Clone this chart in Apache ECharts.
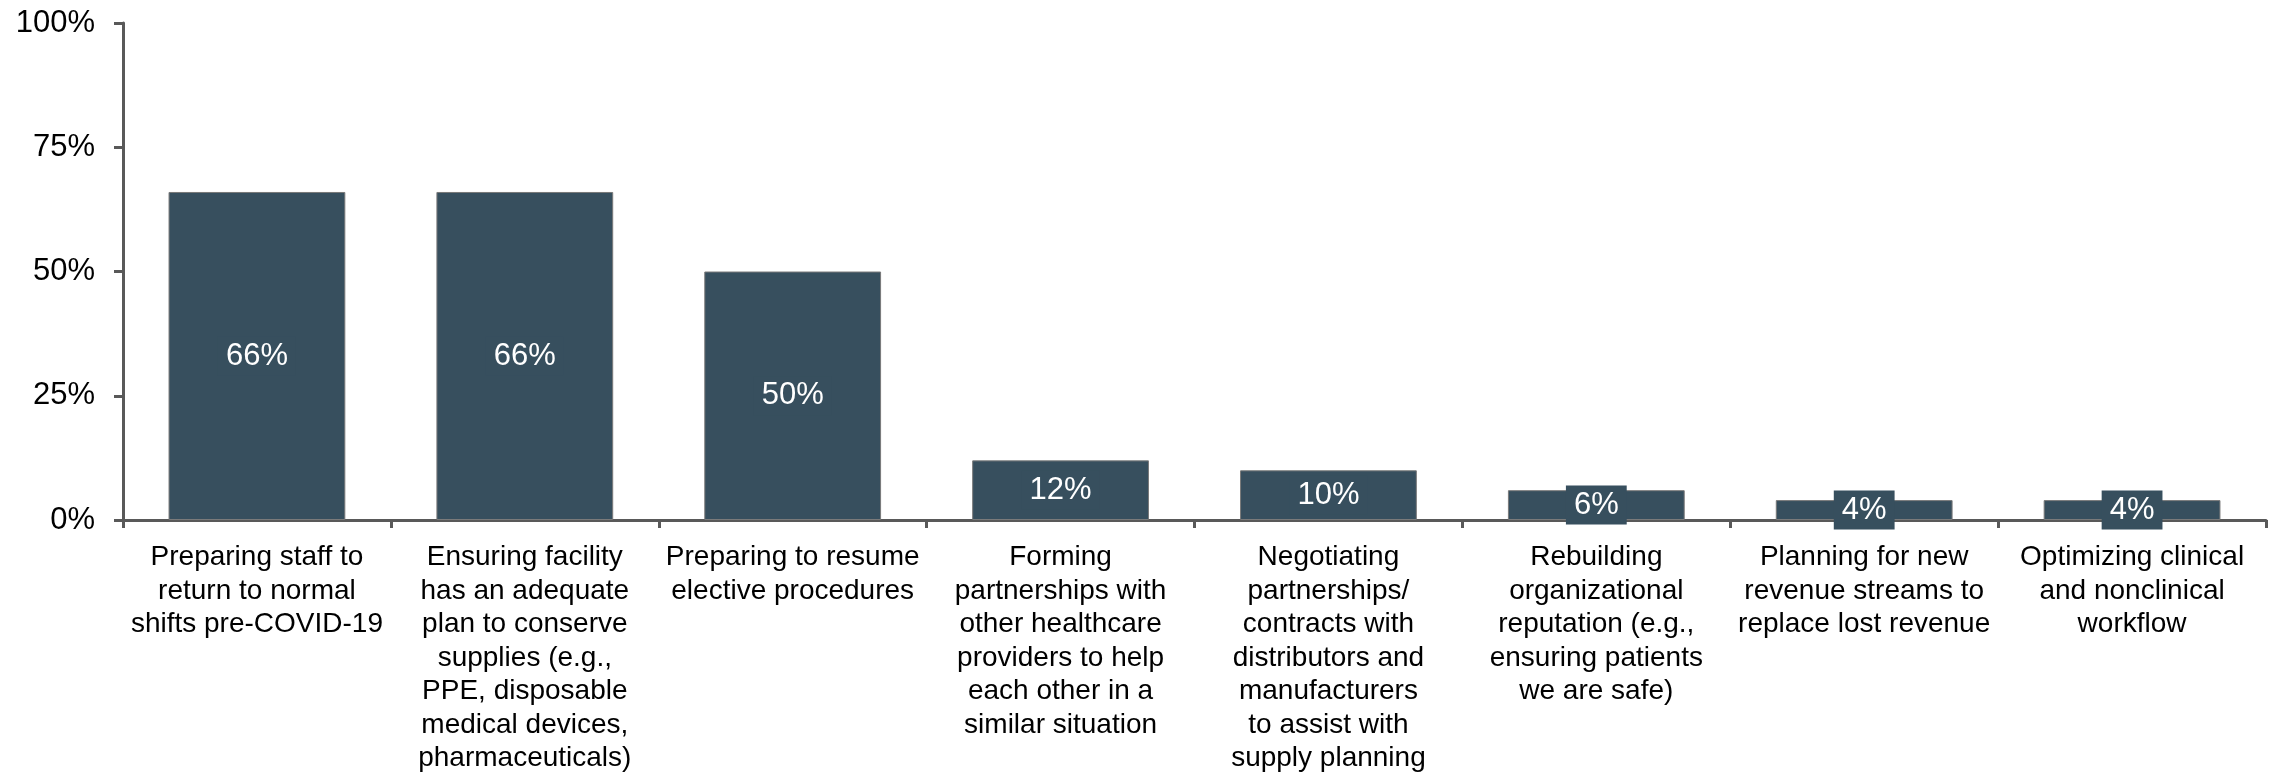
<!DOCTYPE html>
<html>
<head>
<meta charset="utf-8">
<script src="https://cdn.jsdelivr.net/npm/echarts@6/dist/echarts.min.js"></script>
<style>
html,body{margin:0;padding:0;background:#fff;}
#chart{width:2281px;height:772px;}
</style>
</head>
<body>
<div id="chart"></div>
<script>
var categories = [
  "Preparing staff to\nreturn to normal\nshifts pre-COVID-19",
  "Ensuring facility\nhas an adequate\nplan to conserve\nsupplies (e.g.,\nPPE, disposable\nmedical devices,\npharmaceuticals)",
  "Preparing to resume\nelective procedures",
  "Forming\npartnerships with\nother healthcare\nproviders to help\neach other in a\nsimilar situation",
  "Negotiating\npartnerships/\ncontracts with\ndistributors and\nmanufacturers\nto assist with\nsupply planning",
  "Rebuilding\norganizational\nreputation (e.g.,\nensuring patients\nwe are safe)",
  "Planning for new\nrevenue streams to\nreplace lost revenue",
  "Optimizing clinical\nand nonclinical\nworkflow"
];
var values = [66, 66, 50, 12, 10, 6, 4, 4];
var yTicks = [0, 25, 50, 75, 100];

var chart = echarts.init(document.getElementById('chart'), null, {renderer: 'canvas'});
var axisColor = '#595959';
var barColor = '#374F5E';
chart.setOption({
  animation: false,
  textStyle: {fontFamily: 'Liberation Sans, Arial, sans-serif'},
  grid: {left: 123, right: 15, top: 23, bottom: 252, containLabel: false, outerBoundsMode: 'none'},
  xAxis: {
    type: 'category',
    data: categories,
    axisLine: {lineStyle: {color: axisColor, width: 3}},
    axisTick: {show: true, length: 8, lineStyle: {color: axisColor, width: 3}},
    axisLabel: {
      interval: 0, margin: 21, color: '#000', fontSize: 28, lineHeight: 33.5,
      fontFamily: 'Liberation Sans, Arial, sans-serif', align: 'center', verticalAlign: 'top'
    }
  },
  yAxis: {
    type: 'value',
    min: yTicks[0], max: yTicks[yTicks.length - 1], interval: 25,
    splitLine: {show: false},
    axisLine: {show: true, lineStyle: {color: axisColor, width: 3}},
    axisTick: {show: true, length: 9, lineStyle: {color: axisColor, width: 3}},
    axisLabel: {
      formatter: '{value}%', color: '#000', fontSize: 31, margin: 28,
      fontFamily: 'Liberation Sans, Arial, sans-serif'
    }
  },
  series: [{
    type: 'bar',
    data: values,
    barWidth: '66%',
    itemStyle: {color: barColor, borderColor: '#7a7a7a', borderWidth: 1},
    label: {
      show: true, position: 'inside', formatter: '{c}%',
      color: '#fff', fontSize: 31, fontFamily: 'Liberation Sans, Arial, sans-serif',
      backgroundColor: barColor, padding: [5, 8, 3, 8]
    }
  }]
});
</script>
</body>
</html>
